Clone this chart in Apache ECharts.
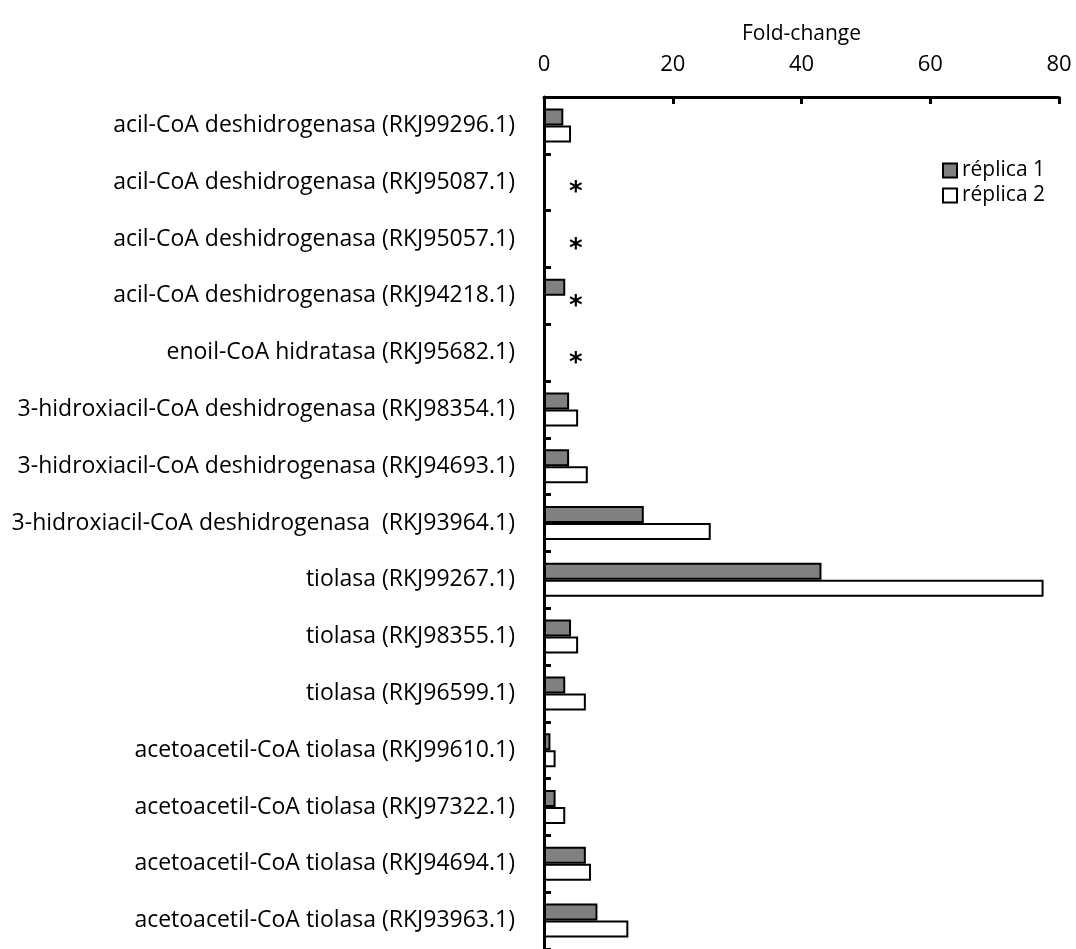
<!DOCTYPE html>
<html><head><meta charset="utf-8">
<script src="https://cdn.jsdelivr.net/npm/echarts@6/dist/echarts.min.js"></script>
<style>html,body{margin:0;padding:0;background:#fff}#c{width:1076px;height:949px}</style>
</head><body><div id="c"></div>
<script>
const categories = [
  'acil-CoA deshidrogenasa (RKJ99296.1)',
  'acil-CoA deshidrogenasa (RKJ95087.1)',
  'acil-CoA deshidrogenasa (RKJ95057.1)',
  'acil-CoA deshidrogenasa (RKJ94218.1)',
  'enoil-CoA hidratasa (RKJ95682.1)',
  '3-hidroxiacil-CoA deshidrogenasa (RKJ98354.1)',
  '3-hidroxiacil-CoA deshidrogenasa (RKJ94693.1)',
  '3-hidroxiacil-CoA deshidrogenasa  (RKJ93964.1)',
  'tiolasa (RKJ99267.1)',
  'tiolasa (RKJ98355.1)',
  'tiolasa (RKJ96599.1)',
  'acetoacetil-CoA tiolasa (RKJ99610.1)',
  'acetoacetil-CoA tiolasa (RKJ97322.1)',
  'acetoacetil-CoA tiolasa (RKJ94694.1)',
  'acetoacetil-CoA tiolasa (RKJ93963.1)'
];
const replica1 = [3.0, 0, 0, 3.3, 0, 3.9, 3.9, 15.5, 43.1, 4.2, 3.3, 1.0, 1.8, 6.5, 8.3];
const replica2 = [4.2, 0, 0, 0, 0, 5.3, 6.8, 25.9, 77.6, 5.3, 6.5, 1.8, 3.3, 7.3, 13.1];
const asteriskRows = [1, 2, 3, 4];
const xTicks = [0, 20, 40, 60, 80];

const FONT = 'Open Sans';
const chart = echarts.init(document.getElementById('c'));
const r2data = replica2.map((v, i) => asteriskRows.includes(i)
  ? {value: v, label: {show: true, formatter: '*'}}
  : v);

chart.setOption({
  animation: false,
  grid: {left: 544, right: 17, top: 97, bottom: -6, containLabel: false},
  legend: {
    orient: 'vertical', left: 937, top: 155, itemWidth: 14, itemHeight: 14, itemGap: 4,
    icon: 'rect',
    textStyle: {fontFamily: FONT, fontSize: 21, color: '#000'},
    data: ['réplica 1', 'réplica 2']
  },
  xAxis: {
    type: 'value', position: 'top', min: 0, max: 80, interval: 20,
    name: 'Fold-change', nameLocation: 'middle', nameGap: 52,
    nameTextStyle: {fontFamily: FONT, fontSize: 21, color: '#000'},
    axisLine: {show: true, lineStyle: {color: '#000', width: 3}},
    axisTick: {show: true, inside: true, length: 7, lineStyle: {color: '#000', width: 3}},
    axisLabel: {fontFamily: FONT, fontSize: 22, color: '#000', margin: 21,
      formatter: v => xTicks.includes(v) ? String(v) : ''},
    splitLine: {show: false}
  },
  yAxis: {
    type: 'category', inverse: true, data: categories,
    axisLine: {show: true, lineStyle: {color: '#000', width: 3}},
    axisTick: {show: true, inside: true, length: 7, lineStyle: {color: '#000', width: 3}},
    axisLabel: {fontFamily: FONT, fontSize: 23, color: '#000', margin: 29},
    splitLine: {show: false}
  },
  series: [
    {name: 'réplica 1', type: 'bar', data: replica1, barWidth: 17, barGap: '0%',
      itemStyle: {color: '#808080', borderColor: '#000', borderWidth: 2}},
    {name: 'réplica 2', type: 'bar', data: r2data, barWidth: 17, barGap: '0%',
      itemStyle: {color: '#ffffff', borderColor: '#000', borderWidth: 2},
      label: {show: false, position: 'right', distance: 24, fontSize: 26, fontWeight: 'bold',
        color: '#000', fontFamily: 'DejaVu Sans', offset: [0, 3]}}
  ]
});
</script></body></html>
